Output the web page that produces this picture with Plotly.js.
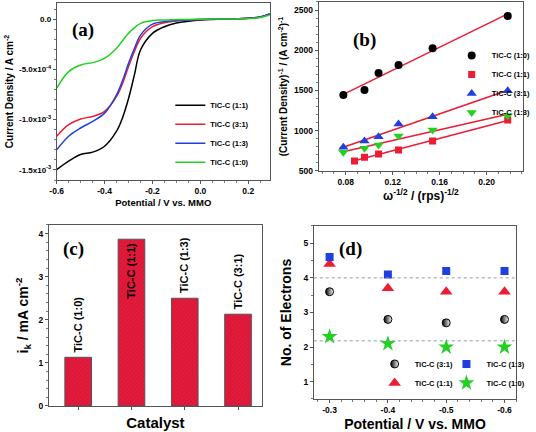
<!DOCTYPE html>
<html><head><meta charset="utf-8">
<script src="https://cdn.plot.ly/plotly-3.0.1.min.js"></script>
<style>html,body{margin:0;padding:0;background:#fff}#chart{width:536px;height:432px}</style>
</head><body><div id="chart"></div>
<script>
// ---------- Panel (a): LSV curves ----------
const potA = [-0.6,-0.55,-0.5,-0.45,-0.4,-0.35,-0.325,-0.3,-0.275,-0.25,-0.2,-0.15,-0.1,-0.05,0,0.05,0.1,0.15,0.2,0.25,0.29];
const jA_11 = [-0.001497,-0.001413,-0.001347,-0.001323,-0.001264,-0.001115,-0.00098,-0.00079,-0.00055,-0.000307,-0.000142,-0.000076,-0.00004,-0.000022,-0.00001,-0.000004,0,0.000003,0.000008,0.00002,0.00005];
const jA_31 = [-0.001165,-0.00105,-0.000993,-0.000968,-0.000918,-0.000769,-0.00064,-0.000472,-0.00032,-0.000191,-0.000076,-0.000036,-0.00002,-0.00001,-0.000005,-0.000002,0,0.000003,0.000008,0.00002,0.00005];
const jA_13 = [-0.0013,-0.001165,-0.001083,-0.001018,-0.000935,-0.000753,-0.00061,-0.00044,-0.00029,-0.000159,-0.00005,-0.000025,-0.000015,-0.000008,-0.000004,-0.000002,0,0.000003,0.000008,0.00002,0.00005];
const jA_10 = [-0.000687,-0.000522,-0.000456,-0.000433,-0.00039,-0.00029,-0.000215,-0.000142,-0.000085,-0.000043,-0.000015,-0.000008,-0.000005,-0.000003,-0.000002,0,0,0.000002,0.000005,0.000015,0.00004];
const tickValsA = [0,-0.0005,-0.001,-0.0015];
const tickTextA = ['0.0','-5.0x10<sup>-4</sup>','-1.0x10<sup>-3</sup>','-1.5x10<sup>-3</sup>'];

// ---------- Panel (b): Koutecky-Levich ----------
const klX = [0.078,0.096,0.108,0.125,0.154,0.218];
const klX_11 = [0.0875,0.096,0.108,0.125,0.154,0.218];
const kl_10 = [1444,1506,1717,1817,2024,2425];
const kl_11 = [624,670,711,761,873,1133];
const kl_31 = [794,873,926,1084,1174,1497];
const kl_13 = [732,782,823,935,1009,1187];

// ---------- Panel (c): kinetic current ----------
const catalysts = ['TiC-C (1:0)','TiC-C (1:1)','TiC-C (1:3)','TiC-C (3:1)'];
const ik = [1.13,3.87,2.5,2.13];
const labelInside = [false,true,false,false];

// ---------- Panel (d): electron number ----------
const potD = [-0.3,-0.4,-0.5,-0.6];
const n_31 = [3.6,2.8,2.7,2.8];
const n_11 = [4.4,3.7,3.6,3.6];
const n_13 = [4.6,4.1,4.2,4.2];
const n_10 = [2.3,2.1,2.0,2.0];
const refLines = [4.0,2.18];

const F = 'Liberation Sans, Arial, sans-serif';
const red='#ec1c34', blue='#1f3fe0', green='#22d022';

function fit(x,y){
  const n=x.length; let sx=0,sy=0,sxx=0,sxy=0;
  for(let i=0;i<n;i++){sx+=x[i];sy+=y[i];sxx+=x[i]*x[i];sxy+=x[i]*y[i];}
  const m=(n*sxy-sx*sy)/(n*sxx-sx*sx), b=(sy-m*sx)/n;
  const xs=[Math.min(...x),Math.max(...x)];
  return {x:xs,y:xs.map(v=>m*v+b)};
}

const traces = [];
// (a)
[[jA_11,'TiC-C (1:1)','#000000'],[jA_31,'TiC-C (3:1)',red],[jA_13,'TiC-C (1:3)',blue],[jA_10,'TiC-C (1:0)',green]].forEach(([y,n,c])=>{
  traces.push({x:potA,y:y,name:n,type:'scatter',mode:'lines',line:{color:c,width:1.5,shape:'spline',smoothing:1},xaxis:'x',yaxis:'y',legend:'legend'});
});
// (b) fits
[[klX,kl_10],[klX_11,kl_11],[klX,kl_31],[klX,kl_13]].forEach(([x,y])=>{
  const f=fit(x,y);
  traces.push({x:f.x,y:f.y,type:'scatter',mode:'lines',line:{color:red,width:1.5},showlegend:false,xaxis:'x2',yaxis:'y2',hoverinfo:'skip'});
});
traces.push({x:klX,y:kl_10,name:'TiC-C (1:0)',type:'scatter',mode:'markers',marker:{symbol:'circle',size:8,color:'#000'},xaxis:'x2',yaxis:'y2',legend:'legend2'});
traces.push({x:klX_11,y:kl_11,name:'TiC-C (1:1)',type:'scatter',mode:'markers',marker:{symbol:'square',size:7,color:red},xaxis:'x2',yaxis:'y2',legend:'legend2'});
traces.push({x:klX,y:kl_31,name:'TiC-C (3:1)',type:'scatter',mode:'markers',marker:{symbol:'triangle-up',size:9,color:blue},xaxis:'x2',yaxis:'y2',legend:'legend2'});
traces.push({x:klX,y:kl_13,name:'TiC-C (1:3)',type:'scatter',mode:'markers',marker:{symbol:'triangle-down',size:9,color:green},xaxis:'x2',yaxis:'y2',legend:'legend2'});
// (c)
traces.push({x:catalysts,y:ik,type:'bar',width:0.5,xaxis:'x3',yaxis:'y3',showlegend:false,
  marker:{color:'#e41a3c',line:{color:'#555',width:1},pattern:{shape:'/',fgcolor:'#a80f28',size:3,solidity:0.25,fillmode:'overlay'}}});
// (d)
traces.push({x:potD,y:n_31,name:'TiC-C (3:1)',type:'scatter',mode:'markers',marker:{symbol:'circle',size:8,color:'#000',gradient:{type:'horizontal',color:'#fff'},line:{color:'#000',width:1}},xaxis:'x4',yaxis:'y4',legend:'legend3'});
traces.push({x:potD,y:n_11,name:'TiC-C (1:1)',type:'scatter',mode:'markers',marker:{symbol:'triangle-up',size:11,color:red},xaxis:'x4',yaxis:'y4',legend:'legend3'});
traces.push({x:potD,y:n_13,name:'TiC-C (1:3)',type:'scatter',mode:'markers',marker:{symbol:'square',size:8,color:blue},xaxis:'x4',yaxis:'y4',legend:'legend4'});
traces.push({x:potD,y:n_10,name:'TiC-C (1:0)',type:'scatter',mode:'markers',marker:{symbol:'star',size:12,color:green},xaxis:'x4',yaxis:'y4',legend:'legend4'});

const tf = (s)=>({family:F,size:s,color:'#000',weight:'bold'});
const ax = (o)=>Object.assign({showline:true,mirror:true,linecolor:'#555',linewidth:1,ticks:'outside',ticklen:3,tickcolor:'#555',showgrid:false,zeroline:false,tickfont:tf(8.5),minor:{ticks:'outside',ticklen:2,tickcolor:'#777'}},o);

const shapes = refLines.map(v=>({type:'line',xref:'x4 domain',yref:'y4',x0:0,x1:1,y0:v,y1:v,line:{color:'#8a9aaa',width:1,dash:'dot'}}));

const lab = (t,xr,yr,x,y)=>({text:t,xref:xr,yref:yr,x:x,y:y,xanchor:'center',yanchor:'middle',showarrow:false,font:{family:'Liberation Serif, Times New Roman, serif',size:19,color:'#000',weight:'bold'}});

const barLabels = catalysts.map((c,i)=>({text:c,xref:'x3',yref:'y3',x:c,y:ik[i],textangle:-90,showarrow:false,
  xanchor:'center',yanchor:labelInside[i]?'top':'bottom',yshift:labelInside[i]?-1:3,font:tf(11)}));

const leg = (o)=>Object.assign({xanchor:'left',yanchor:'top',bgcolor:'rgba(0,0,0,0)',font:tf(7.5),itemwidth:30,tracegroupgap:0},o);

const layout = {
  width:536,height:432,margin:{l:0,r:0,t:0,b:0},paper_bgcolor:'#fff',plot_bgcolor:'#fff',
  font:{family:F},
  xaxis:ax({domain:[0.1082,0.5149],range:[-0.6,0.29],tickvals:[-0.6,-0.4,-0.2,0,0.2],ticktext:['-0.6','-0.4','-0.2','0.0','0.2'],anchor:'y',
    title:{text:'Potential / V vs. MMO',font:tf(9.5),standoff:4}}),
  yaxis:ax({domain:[0.5833,0.9931],range:[-0.0016,0.00016],tickvals:tickValsA,ticktext:tickTextA,anchor:'x',tickfont:tf(8),
    title:{text:'Current Density / A cm<sup>-2</sup>',font:tf(10),standoff:3}}),
  xaxis2:ax({domain:[0.6082,0.9981],range:[0.057,0.231],tickvals:[0.08,0.12,0.16,0.20],ticktext:['0.08','0.12','0.16','0.20'],anchor:'y2',
    title:{text:'ω<sup>-1/2</sup> / (rps)<sup>-1/2</sup>',font:tf(12),standoff:4}}),
  yaxis2:ax({domain:[0.6042,0.9954],range:[500,2600],tickvals:[500,1000,1500,2000,2500],anchor:'x2',
    title:{text:'(Current Density)<sup>-1</sup> / (A cm<sup>-2</sup>)<sup>-1</sup>',font:tf(10),standoff:4}}),
  xaxis3:ax({domain:[0.0933,0.5],range:[-0.55,3.45],showticklabels:false,anchor:'y3',minor:{ticks:''},
    title:{text:'Catalyst',font:tf(15),standoff:8}}),
  yaxis3:ax({domain:[0.0602,0.4792],range:[0,4.2],tickvals:[0,1,2,3,4],anchor:'x3',
    title:{text:'i<sub>k</sub> / mA cm<sup>-2</sup>',font:tf(14),standoff:6}}),
  xaxis4:ax({domain:[0.5989,0.9851],range:[-0.273,-0.62],tickvals:potD,ticktext:['-0.3','-0.4','-0.5','-0.6'],anchor:'y4',
    title:{text:'Potential / V vs. MMO',font:tf(14),standoff:6}}),
  yaxis4:ax({domain:[0.0764,0.4769],range:[0.5,5.5],tickvals:[1,2,3,4,5],anchor:'x4',
    title:{text:'No. of Electrons',font:tf(14),standoff:8}}),
  legend:leg({x:0.325,y:0.79}),
  legend2:leg({x:0.862,y:0.905}),
  legend3:leg({x:0.715,y:0.08,yanchor:'bottom'}),
  legend4:leg({x:0.852,y:0.08,yanchor:'bottom'}),
  shapes:shapes,
  annotations:[
    lab('(a)','x domain','y domain',0.124,0.847),
    lab('(b)','x2 domain','y2 domain',0.225,0.775),
    lab('(c)','x3 domain','y3 domain',0.115,0.867),
    lab('(d)','x4 domain','y4 domain',0.179,0.867)
  ].concat(barLabels)
};
Plotly.newPlot('chart',traces,layout,{displayModeBar:false,staticPlot:true});
</script></body></html>
